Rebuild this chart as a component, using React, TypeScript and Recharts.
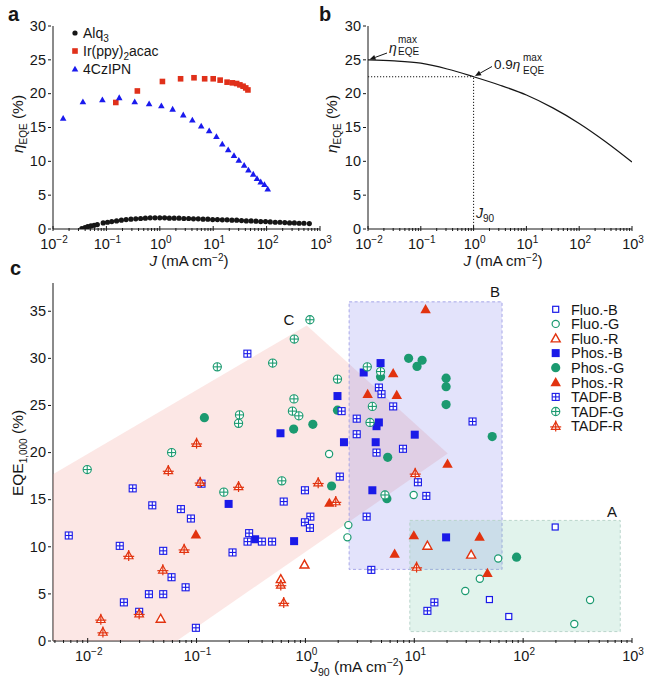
import React from 'react';
import { ScatterChart, Scatter, XAxis, YAxis, LineChart, Line, ReferenceLine, Legend } from 'recharts';

const FONT = '"Liberation Sans", Arial, Helvetica, sans-serif';
const INK = '#161616';
const BLUE = '#1a1ae8';
const GREEN = '#1b9a70';
const RED = '#e2330f';

// ---------------- Panel a : EQE vs J for three devices ----------------
const alq3 = [
  { j: 0.0347, eqe: 0.05 }, { j: 0.0398, eqe: 0.2 }, { j: 0.0447, eqe: 0.35 }, { j: 0.0513, eqe: 0.45 },
  { j: 0.0589, eqe: 0.55 }, { j: 0.0676, eqe: 0.65 }, { j: 0.0871, eqe: 0.9 }, { j: 0.105, eqe: 1.0 },
  { j: 0.126, eqe: 1.1 }, { j: 0.155, eqe: 1.2 }, { j: 0.191, eqe: 1.3 }, { j: 0.234, eqe: 1.4 },
  { j: 0.288, eqe: 1.45 }, { j: 0.355, eqe: 1.5 }, { j: 0.437, eqe: 1.55 }, { j: 0.537, eqe: 1.6 },
  { j: 0.661, eqe: 1.65 }, { j: 0.813, eqe: 1.65 }, { j: 1.0, eqe: 1.65 }, { j: 1.23, eqe: 1.65 },
  { j: 1.51, eqe: 1.6 }, { j: 1.86, eqe: 1.6 }, { j: 2.29, eqe: 1.6 }, { j: 2.82, eqe: 1.55 },
  { j: 3.47, eqe: 1.55 }, { j: 4.27, eqe: 1.5 }, { j: 5.25, eqe: 1.5 }, { j: 6.46, eqe: 1.45 },
  { j: 7.94, eqe: 1.45 }, { j: 9.77, eqe: 1.4 }, { j: 12.0, eqe: 1.4 }, { j: 14.8, eqe: 1.35 },
  { j: 18.2, eqe: 1.35 }, { j: 22.4, eqe: 1.3 }, { j: 27.5, eqe: 1.3 }, { j: 33.9, eqe: 1.25 },
  { j: 41.7, eqe: 1.2 }, { j: 51.3, eqe: 1.2 }, { j: 63.1, eqe: 1.15 }, { j: 77.6, eqe: 1.1 },
  { j: 95.5, eqe: 1.1 }, { j: 117, eqe: 1.05 }, { j: 145, eqe: 1.0 }, { j: 178, eqe: 1.0 },
  { j: 219, eqe: 0.95 }, { j: 269, eqe: 0.9 }, { j: 331, eqe: 0.9 }, { j: 407, eqe: 0.85 },
  { j: 501, eqe: 0.85 }, { j: 631, eqe: 0.8 },
];
const irppy = [
  { j: 0.15, eqe: 18.7 }, { j: 0.38, eqe: 20.4 }, { j: 1.12, eqe: 21.8 }, { j: 2.45, eqe: 22.2 },
  { j: 4.37, eqe: 22.35 }, { j: 6.92, eqe: 22.2 }, { j: 10.0, eqe: 22.2 }, { j: 13.5, eqe: 22.0 },
  { j: 18.2, eqe: 21.7 }, { j: 22.9, eqe: 21.6 }, { j: 27.5, eqe: 21.5 }, { j: 31.6, eqe: 21.3 },
  { j: 36.3, eqe: 21.1 }, { j: 40.7, eqe: 20.85 }, { j: 44.7, eqe: 20.55 },
];
const czipn = [
  { j: 0.0155, eqe: 16.35 }, { j: 0.0363, eqe: 18.8 }, { j: 0.0841, eqe: 19.1 }, { j: 0.174, eqe: 19.4 },
  { j: 0.339, eqe: 18.8 }, { j: 0.631, eqe: 18.5 }, { j: 1.07, eqe: 18.2 }, { j: 1.74, eqe: 17.7 },
  { j: 2.75, eqe: 16.85 }, { j: 4.07, eqe: 16.1 }, { j: 5.96, eqe: 15.2 }, { j: 8.41, eqe: 14.5 },
  { j: 11.5, eqe: 13.65 }, { j: 14.8, eqe: 12.55 }, { j: 19.1, eqe: 11.7 }, { j: 24.5, eqe: 10.85 },
  { j: 30.2, eqe: 10.15 }, { j: 38.0, eqe: 9.4 }, { j: 45.7, eqe: 8.7 }, { j: 56.2, eqe: 8.1 },
  { j: 66.1, eqe: 7.45 }, { j: 77.6, eqe: 6.95 }, { j: 91.2, eqe: 6.55 }, { j: 105, eqe: 5.9 },
];

// ---------------- Panel b : schematic roll-off curve ----------------
const rollOff = [
  { j: 0.01, eqe: 25.0 }, { j: 0.0316, eqe: 24.85 }, { j: 0.1, eqe: 24.5 }, { j: 0.316, eqe: 23.65 },
  { j: 1, eqe: 22.5 }, { j: 3.16, eqe: 21.25 }, { j: 10, eqe: 19.8 }, { j: 31.6, eqe: 17.9 },
  { j: 100, eqe: 15.6 }, { j: 316, eqe: 12.9 }, { j: 1000, eqe: 9.9 },
];
const eta90 = 22.5;
const j90 = 1;

// ---------------- Panel c : EQE(1000) vs J90 ----------------
const fluoB = [{ j: 197, eqe: 12.1 }, { j: 49, eqe: 4.4 }, { j: 73.8, eqe: 2.6 }];
const fluoG = [
  { j: 1.65, eqe: 19.85 }, { j: 9.87, eqe: 15.5 }, { j: 2.48, eqe: 12.3 }, { j: 2.43, eqe: 11.0 },
  { j: 59, eqe: 8.76 }, { j: 40, eqe: 6.6 }, { j: 29.4, eqe: 5.3 }, { j: 412, eqe: 4.35 }, { j: 295, eqe: 1.8 },
];
const fluoR = [
  { j: 13.2, eqe: 10.1 }, { j: 33.3, eqe: 9.15 }, { j: 0.98, eqe: 8.1 }, { j: 0.594, eqe: 6.55 }, { j: 0.0468, eqe: 2.35 },
];
const phosB = [
  { j: 4.9, eqe: 29.5 }, { j: 3.43, eqe: 28.5 }, { j: 1.97, eqe: 26.0 }, { j: 0.59, eqe: 22.05 },
  { j: 4.73, eqe: 23.2 }, { j: 4.5, eqe: 22.8 }, { j: 10.1, eqe: 21.9 }, { j: 2.26, eqe: 21.1 },
  { j: 4.42, eqe: 21.1 }, { j: 4.12, eqe: 16.0 }, { j: 19.6, eqe: 11.0 }, { j: 0.197, eqe: 14.55 },
  { j: 0.345, eqe: 10.8 }, { j: 0.787, eqe: 10.6 },
];
const phosG = [
  { j: 8.87, eqe: 30.0 }, { j: 11.8, eqe: 29.8 }, { j: 10.6, eqe: 29.15 }, { j: 4.9, eqe: 28.05 },
  { j: 19.6, eqe: 27.9 }, { j: 19.6, eqe: 27.0 }, { j: 19.6, eqe: 25.1 }, { j: 1.97, eqe: 24.5 },
  { j: 0.118, eqe: 23.7 }, { j: 0.78, eqe: 22.5 }, { j: 1.17, eqe: 23.0 }, { j: 52, eqe: 21.7 },
  { j: 5.7, eqe: 19.5 }, { j: 1.74, eqe: 16.45 }, { j: 5.6, eqe: 15.1 }, { j: 87, eqe: 8.9 },
];
const phosR = [
  { j: 12.7, eqe: 35.2 }, { j: 6.4, eqe: 28.4 }, { j: 3.73, eqe: 26.2 }, { j: 6.9, eqe: 26.1 },
  { j: 20.2, eqe: 18.8 }, { j: 1.66, eqe: 14.65 }, { j: 0.0986, eqe: 11.3 }, { j: 9.9, eqe: 11.2 },
  { j: 39.8, eqe: 11.05 }, { j: 6.6, eqe: 9.25 }, { j: 47, eqe: 7.2 },
];
const tadfB = [
  { j: 0.293, eqe: 30.5 }, { j: 4.73, eqe: 26.9 }, { j: 5.0, eqe: 26.2 }, { j: 6.4, eqe: 24.9 },
  { j: 2.15, eqe: 24.4 }, { j: 34.3, eqe: 23.3 }, { j: 2.96, eqe: 23.6 }, { j: 2.96, eqe: 21.95 },
  { j: 4.5, eqe: 20.0 }, { j: 7.87, eqe: 20.4 }, { j: 2.07, eqe: 17.45 }, { j: 10.8, eqe: 16.85 },
  { j: 0.99, eqe: 16.0 }, { j: 12.9, eqe: 15.4 }, { j: 1.11, eqe: 13.2 }, { j: 0.99, eqe: 12.6 },
  { j: 1.1, eqe: 12.0 }, { j: 3.65, eqe: 13.2 }, { j: 4.03, eqe: 7.55 }, { j: 15.3, eqe: 4.1 },
  { j: 13.2, eqe: 3.2 }, { j: 0.0259, eqe: 16.2 }, { j: 0.111, eqe: 16.7 }, { j: 0.0392, eqe: 14.4 },
  { j: 0.632, eqe: 14.8 }, { j: 0.0718, eqe: 14.0 }, { j: 0.0887, eqe: 13.0 }, { j: 0.0067, eqe: 11.2 },
  { j: 0.304, eqe: 11.45 }, { j: 0.294, eqe: 10.55 }, { j: 0.398, eqe: 10.55 }, { j: 0.494, eqe: 10.55 },
  { j: 0.0197, eqe: 10.1 }, { j: 0.0494, eqe: 9.57 }, { j: 0.214, eqe: 9.4 }, { j: 0.0589, eqe: 6.77 },
  { j: 0.0793, eqe: 5.7 }, { j: 0.0365, eqe: 4.97 }, { j: 0.0494, eqe: 4.97 }, { j: 0.0215, eqe: 4.1 },
  { j: 0.0297, eqe: 3.1 }, { j: 0.0986, eqe: 1.4 },
];
const tadfG = [
  { j: 1.1, eqe: 34.1 }, { j: 0.155, eqe: 29.1 }, { j: 0.5, eqe: 29.5 }, { j: 0.79, eqe: 32.05 },
  { j: 0.785, eqe: 25.7 }, { j: 0.76, eqe: 24.4 }, { j: 0.87, eqe: 23.9 }, { j: 0.248, eqe: 24.0 },
  { j: 0.243, eqe: 23.1 }, { j: 0.059, eqe: 20.0 }, { j: 0.0099, eqe: 18.2 }, { j: 3.7, eqe: 29.1 },
  { j: 4.9, eqe: 28.6 }, { j: 1.97, eqe: 27.8 }, { j: 4.12, eqe: 24.9 }, { j: 3.92, eqe: 23.2 },
  { j: 5.38, eqe: 15.5 }, { j: 0.607, eqe: 17.0 }, { j: 0.178, eqe: 15.8 },
];
const tadfR = [
  { j: 0.1, eqe: 21.0 }, { j: 0.055, eqe: 18.1 }, { j: 10.2, eqe: 17.8 }, { j: 1.31, eqe: 16.8 },
  { j: 1.9, eqe: 14.8 }, { j: 10.5, eqe: 7.85 }, { j: 0.108, eqe: 16.85 }, { j: 0.243, eqe: 16.4 },
  { j: 0.0238, eqe: 9.07 }, { j: 0.0769, eqe: 9.75 }, { j: 0.049, eqe: 7.55 }, { j: 0.594, eqe: 5.95 },
  { j: 0.632, eqe: 4.08 }, { j: 0.0297, eqe: 2.9 }, { j: 0.0132, eqe: 2.3 }, { j: 0.0138, eqe: 0.95 },
];
// shaded guide regions (vertices in data units)
const regionA = [{ j: 9.1, eqe: 12.8 }, { j: 780, eqe: 12.8 }, { j: 780, eqe: 1.0 }, { j: 9.1, eqe: 1.0 }];
const regionB = [{ j: 2.52, eqe: 36.0 }, { j: 64, eqe: 36.0 }, { j: 64, eqe: 7.6 }, { j: 2.52, eqe: 7.6 }];
const regionC = [
  { j: 0.0048, eqe: 17.7 }, { j: 1.03, eqe: 33.5 }, { j: 20.3, eqe: 19.9 }, { j: 0.0656, eqe: 0 }, { j: 0.0048, eqe: 0 },
];

// ---------------- Axes ----------------
const minorMultipliers = [1, 2, 3, 4, 5, 6, 7, 8, 9];
const yTicksAB = [0, 5, 10, 15, 20, 25, 30];
const yTicksC = [0, 5, 10, 15, 20, 25, 30, 35];
const domainAB: [number, number] = [0.01, 1000];
const domainC: [number, number] = [0.0048, 1000];
const yDomainAB: [number, number] = [0, 30];
const yDomainC: [number, number] = [0, 38];

const logTicks = (lo: number, hi: number) => {
  const out: number[] = [];
  for (let k = -3; k <= 3; k++) {
    for (const m of minorMultipliers) {
      const v = parseFloat((m * Math.pow(10, k)).toPrecision(6));
      if (v >= lo * 0.999 && v <= hi * 1.001) out.push(v);
    }
  }
  return out;
};

const XLogTick = (props: any) => {
  const { x, y, payload } = props;
  const v = payload.value;
  const lg = Math.log10(v);
  const isMajor = Math.abs(lg - Math.round(lg)) < 1e-6;
  const e = Math.round(lg);
  return (
    <g>
      <line x1={x} x2={x} y1={y} y2={y - (isMajor ? 5 : 3)} stroke={INK} strokeWidth={1} />
      {isMajor && (
        <text x={x + 1} y={y + 18} textAnchor="middle" fontSize={14.5} fontFamily={FONT} fill={INK}>
          10<tspan dy={-6} fontSize={10}>{e < 0 ? '\u2212' + -e : String(e)}</tspan>
        </text>
      )}
    </g>
  );
};

const YTick = (props: any) => {
  const { x, y, payload } = props;
  return (
    <g>
      <line x1={x} x2={x - 3} y1={y} y2={y} stroke={INK} strokeWidth={1} />
      <text x={x - 5} y={y} dy="0.33em" textAnchor="end" fontSize={14.5} fontFamily={FONT} fill={INK}>
        {payload.value}
      </text>
    </g>
  );
};

// ---------------- Marker shapes ----------------
const tri = (cx: number, cy: number, w: number, h: number) =>
  `${cx},${cy - h * 0.58} ${cx - w / 2},${cy + h * 0.42} ${cx + w / 2},${cy + h * 0.42}`;

const mk: Record<string, (cx: number, cy: number) => React.ReactElement> = {
  alq: (cx, cy) => <circle cx={cx} cy={cy} r={2.6} fill={INK} />,
  ir: (cx, cy) => <rect x={cx - 2.8} y={cy - 2.8} width={5.6} height={5.6} fill="#e0301a" />,
  cz: (cx, cy) => <polygon points={tri(cx, cy, 6.6, 5.8)} fill="#1a1aee" />,
  fluoB: (cx, cy) => <rect x={cx - 3} y={cy - 3} width={6} height={6} fill="#fff" stroke={BLUE} strokeWidth={1.2} />,
  fluoG: (cx, cy) => <circle cx={cx} cy={cy} r={3.6} fill="#fff" stroke={GREEN} strokeWidth={1.2} />,
  fluoR: (cx, cy) => <polygon points={tri(cx, cy, 9, 8)} fill="#fff" stroke={RED} strokeWidth={1.4} strokeLinejoin="miter" />,
  phosB: (cx, cy) => <rect x={cx - 4} y={cy - 4} width={8} height={8} fill={BLUE} />,
  phosG: (cx, cy) => <circle cx={cx} cy={cy} r={4.6} fill={GREEN} />,
  phosR: (cx, cy) => <polygon points={tri(cx, cy, 10.5, 9.2)} fill={RED} />,
  tadfB: (cx, cy) => (
    <g stroke={BLUE} strokeWidth={1.1}>
      <rect x={cx - 3.5} y={cy - 3.5} width={7} height={7} fill="#fff" />
      <line x1={cx} x2={cx} y1={cy - 3.5} y2={cy + 3.5} />
      <line x1={cx - 3.5} x2={cx + 3.5} y1={cy} y2={cy} />
    </g>
  ),
  tadfG: (cx, cy) => (
    <g stroke={GREEN} strokeWidth={1.1}>
      <circle cx={cx} cy={cy} r={4.1} fill="#fff" />
      <line x1={cx} x2={cx} y1={cy - 4.1} y2={cy + 4.1} />
      <line x1={cx - 4.1} x2={cx + 4.1} y1={cy} y2={cy} />
    </g>
  ),
  tadfR: (cx, cy) => (
    <g stroke={RED} strokeWidth={1.2}>
      <polygon points={tri(cx, cy, 8.6, 7.6)} fill="#fff" />
      <line x1={cx} x2={cx} y1={cy - 5.5} y2={cy + 5.5} />
      <line x1={cx - 5.5} x2={cx + 5.5} y1={cy + 0.8} y2={cy + 0.8} />
    </g>
  ),
};
const shapeOf = (key: string) => (p: any) => mk[key](p.cx, p.cy);

const seriesA = [
  { key: 'alq', name: 'Alq3', data: alq3 },
  { key: 'ir', name: 'Ir(ppy)2acac', data: irppy },
  { key: 'cz', name: '4CzIPN', data: czipn },
];
const seriesC = [
  { key: 'fluoB', name: 'Fluo.-B', data: fluoB },
  { key: 'fluoG', name: 'Fluo.-G', data: fluoG },
  { key: 'fluoR', name: 'Fluo.-R', data: fluoR },
  { key: 'phosB', name: 'Phos.-B', data: phosB },
  { key: 'phosG', name: 'Phos.-G', data: phosG },
  { key: 'phosR', name: 'Phos.-R', data: phosR },
  { key: 'tadfB', name: 'TADF-B', data: tadfB },
  { key: 'tadfG', name: 'TADF-G', data: tadfG },
  { key: 'tadfR', name: 'TADF-R', data: tadfR },
];

const polygonLine = (fill: string, stroke?: string) => (p: any) => (
  <polygon
    points={(p.points || []).map((q: any) => `${q.x},${q.y}`).join(' ')}
    fill={fill}
    stroke={stroke || 'none'}
    strokeWidth={1}
    strokeDasharray={stroke ? '3 2.5' : undefined}
  />
);
const noShape = () => <g />;

const labelA = (name: string) => {
  if (name === 'Alq3') return (<>Alq<tspan dy={4} fontSize={10}>3</tspan></>);
  if (name === 'Ir(ppy)2acac') return (<>Ir(ppy)<tspan dy={4} fontSize={10}>2</tspan><tspan dy={-4}>acac</tspan></>);
  return <>{name}</>;
};

const LegendA = () => (
  <svg width={150} height={60} style={{ overflow: 'visible', display: 'block' }}>
    {seriesA.map((s, i) => (
      <g key={s.key}>
        {mk[s.key](9, 11 + i * 18)}
        <text x={17} y={11 + i * 18 + 5} fontSize={14} fontFamily={FONT} fill={INK}>{labelA(s.name)}</text>
      </g>
    ))}
  </svg>
);

const LegendC = () => (
  <svg width={110} height={140} style={{ overflow: 'visible', display: 'block' }}>
    {seriesC.map((s, i) => (
      <g key={s.key}>
        {mk[s.key](6.7, 7.3 + i * 14.6)}
        <text x={22} y={7.3 + i * 14.6 + 5.2} fontSize={14.5} fontFamily={FONT} fill={INK}>{s.name}</text>
      </g>
    ))}
  </svg>
);

const Arrow = ({ x1, y1, x2, y2 }: { x1: number; y1: number; x2: number; y2: number }) => {
  const a = Math.atan2(y2 - y1, x2 - x1);
  const L = 6, W = 2.6;
  const bx = x2 - L * Math.cos(a), by = y2 - L * Math.sin(a);
  const px = -Math.sin(a) * W, py = Math.cos(a) * W;
  return (
    <g>
      <line x1={x1} y1={y1} x2={bx} y2={by} stroke={INK} strokeWidth={1} />
      <polygon points={`${x2},${y2} ${bx + px},${by + py} ${bx - px},${by - py}`} fill={INK} />
    </g>
  );
};

const axisLine = { stroke: INK, strokeWidth: 1 };

export default function App() {
  const ticksAB = logTicks(domainAB[0], domainAB[1]);
  const ticksC = logTicks(domainC[0], domainC[1]);
  return (
    <div style={{ position: 'absolute', left: 0, top: 0, width: 664, height: 700, background: '#fff', fontFamily: FONT }}>
      {/* Panel b (drawn first so panel a's last tick label stays on top) */}
      <div style={{ position: 'absolute', left: 330, top: 0 }}>
        <LineChart width={334} height={270} data={rollOff} margin={{ top: 26, right: 32, bottom: 0, left: 0 }}>
          <XAxis type="number" dataKey="j" scale="log" domain={domainAB} allowDataOverflow ticks={ticksAB}
            interval={0} tickSize={0} tickLine={false} tick={XLogTick} height={41} axisLine={axisLine} />
          <YAxis type="number" domain={yDomainAB} allowDataOverflow ticks={yTicksAB}
            interval={0} tickSize={0} tickLine={false} tick={YTick} width={38} axisLine={axisLine} />
          <ReferenceLine segment={[{ x: domainAB[0], y: eta90 }, { x: j90, y: eta90 }]} stroke={INK}
            strokeDasharray="1.2 1.8" strokeWidth={1} />
          <ReferenceLine segment={[{ x: j90, y: 0 }, { x: j90, y: eta90 }]} stroke={INK}
            strokeDasharray="1.2 1.8" strokeWidth={1} />
          <Line type="monotone" dataKey="eqe" stroke={INK} strokeWidth={1.2} dot={false} isAnimationActive={false} />
        </LineChart>
      </div>

      {/* Panel a */}
      <div style={{ position: 'absolute', left: 0, top: 0 }}>
        <ScatterChart width={345} height={270} margin={{ top: 26, right: 25, bottom: 0, left: 0 }}>
          <XAxis type="number" dataKey="j" scale="log" domain={domainAB} allowDataOverflow ticks={ticksAB}
            interval={0} tickSize={0} tickLine={false} tick={XLogTick} height={41} axisLine={axisLine} />
          <YAxis type="number" dataKey="eqe" domain={yDomainAB} allowDataOverflow ticks={yTicksAB}
            interval={0} tickSize={0} tickLine={false} tick={YTick} width={53} axisLine={axisLine} />
          {seriesA.map((s) => (
            <Scatter key={s.key} name={s.name} data={s.data} shape={shapeOf(s.key)} isAnimationActive={false} />
          ))}
          <Legend content={() => <LegendA />} layout="vertical" align="center" verticalAlign="middle"
            wrapperStyle={{ left: 66, top: 22, width: 150, height: 60 }} />
        </ScatterChart>
      </div>

      {/* Panel c */}
      <div style={{ position: 'absolute', left: 0, top: 270 }}>
        <ScatterChart width={664} height={430} margin={{ top: 13, right: 32, bottom: 0, left: 0 }}>
          <XAxis type="number" dataKey="j" scale="log" domain={domainC} allowDataOverflow ticks={ticksC}
            interval={0} tickSize={0} tickLine={false} tick={XLogTick} height={59} axisLine={axisLine} />
          <YAxis type="number" dataKey="eqe" domain={yDomainC} allowDataOverflow ticks={yTicksC}
            interval={0} tickSize={0} tickLine={false} tick={YTick} width={53} axisLine={axisLine} />
          <Scatter name="regionC" data={regionC} line={polygonLine('rgba(245,160,150,0.25)')} lineType="joint"
            shape={noShape} legendType="none" isAnimationActive={false} />
          <Scatter name="regionB" data={regionB} line={polygonLine('rgba(100,100,235,0.18)', 'rgba(160,160,230,0.9)')}
            lineType="joint" shape={noShape} legendType="none" isAnimationActive={false} />
          <Scatter name="regionA" data={regionA} line={polygonLine('rgba(120,200,170,0.22)', 'rgba(180,210,200,0.9)')}
            lineType="joint" shape={noShape} legendType="none" isAnimationActive={false} />
          {seriesC.map((s) => (
            <Scatter key={s.key} name={s.name} data={s.data} shape={shapeOf(s.key)} isAnimationActive={false} />
          ))}
          <Legend content={() => <LegendC />} layout="vertical" align="center" verticalAlign="middle"
            wrapperStyle={{ left: 549, top: 31.7, width: 110, height: 140 }} />
        </ScatterChart>
      </div>

      {/* Text annotations */}
      <svg width={664} height={700} style={{ position: 'absolute', left: 0, top: 0, pointerEvents: 'none' }}
        fontFamily={FONT} fill={INK}>
        <text x={8} y={21} fontSize={20} fontWeight="bold">a</text>
        <text x={319} y={21} fontSize={20} fontWeight="bold">b</text>
        <text x={10} y={275} fontSize={20} fontWeight="bold">c</text>

        {/* axis titles */}
        <text x={189} y={266} textAnchor="middle" fontSize={15}>
          <tspan fontStyle="italic">J</tspan> (mA cm<tspan dy={-5.5} fontSize={10}>{'\u2212'}2</tspan><tspan dy={5.5}>)</tspan>
        </text>
        <text x={503} y={266} textAnchor="middle" fontSize={15}>
          <tspan fontStyle="italic">J</tspan> (mA cm<tspan dy={-5.5} fontSize={10}>{'\u2212'}2</tspan><tspan dy={5.5}>)</tspan>
        </text>
        <text x={357} y={672} textAnchor="middle" fontSize={15.5}>
          <tspan fontStyle="italic">J</tspan><tspan dy={4} fontSize={10.5}>90</tspan><tspan dy={-4}> (mA cm</tspan>
          <tspan dy={-6} fontSize={10.5}>{'\u2212'}2</tspan><tspan dy={6}>)</tspan>
        </text>
        <text transform="translate(23,124) rotate(-90)" textAnchor="middle" fontSize={15.5}>
          <tspan fontStyle="italic">η</tspan><tspan dy={4} fontSize={10}>EQE</tspan><tspan dy={-4}> (%)</tspan>
        </text>
        <text transform="translate(337,124) rotate(-90)" textAnchor="middle" fontSize={15.5}>
          <tspan fontStyle="italic">η</tspan><tspan dy={4} fontSize={10}>EQE</tspan><tspan dy={-4}> (%)</tspan>
        </text>
        <text transform="translate(23,453) rotate(-90)" textAnchor="middle" fontSize={15.5}>
          EQE<tspan dy={4} fontSize={10}>1,000</tspan><tspan dy={-4}> (%)</tspan>
        </text>

        {/* panel b annotations */}
        <Arrow x1={387} y1={53} x2={369.5} y2={59.5} />
        <text x={389} y={52.5} fontSize={14} fontStyle="italic">η</text>
        <text x={398} y={42.5} fontSize={10}>max</text>
        <text x={398} y={54.5} fontSize={10}>EQE</text>
        <Arrow x1={492} y1={66.5} x2={475} y2={76} />
        <text x={494} y={69} fontSize={13.5}>0.9<tspan fontStyle="italic">η</tspan></text>
        <text x={523} y={61} fontSize={10}>max</text>
        <text x={523} y={73.5} fontSize={10}>EQE</text>
        <text x={476} y={218} fontSize={14}>
          <tspan fontStyle="italic">J</tspan><tspan dy={3.5} fontSize={10}>90</tspan>
        </text>

        {/* region labels */}
        <text x={612} y={517} textAnchor="middle" fontSize={15}>A</text>
        <text x={495} y={297} textAnchor="middle" fontSize={15}>B</text>
        <text x={289} y={325} textAnchor="middle" fontSize={15}>C</text>
      </svg>
    </div>
  );
}
